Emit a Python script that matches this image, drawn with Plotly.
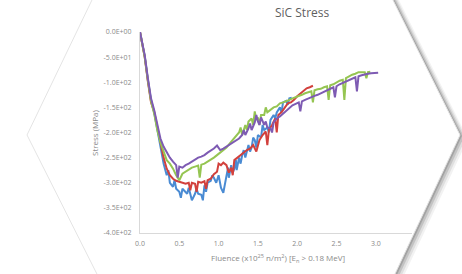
import plotly.graph_objects as go

# ---------------- data ----------------
blue_x = [0, 0.03, 0.06, 0.1, 0.14, 0.18, 0.22, 0.26, 0.28, 0.3, 0.34, 0.36, 0.38, 0.42, 0.44,
          0.46, 0.5, 0.52, 0.54, 0.56, 0.6, 0.62, 0.64, 0.66, 0.7, 0.72, 0.74, 0.78, 0.8, 0.82,
          0.84, 0.86, 0.9, 0.92, 0.94, 0.97, 1.0, 1.03, 1.06, 1.08, 1.1, 1.12, 1.13, 1.16, 1.18,
          1.2, 1.22, 1.23, 1.26, 1.28, 1.3, 1.32, 1.34, 1.38, 1.4, 1.42, 1.44, 1.46, 1.48, 1.5,
          1.54, 1.56, 1.58, 1.62, 1.64, 1.66, 1.7, 1.72, 1.74, 1.78, 1.8, 1.82, 1.86, 1.88, 1.9,
          1.93]
blue_y = [0, -25, -48, -95, -135, -160, -195, -232, -248, -262, -285, -275, -300, -308, -295,
          -312, -318, -330, -312, -315, -322, -310, -325, -335, -322, -312, -322, -324, -335, -305,
          -318, -300, -296, -285, -290, -300, -285, -310, -320, -305, -285, -270, -290, -265, -280,
          -272, -255, -275, -250, -262, -245, -235, -250, -225, -238, -230, -210, -215, -230, -205,
          -210, -185, -195, -190, -200, -175, -165, -172, -160, -150, -160, -140, -137, -145, -132,
          -131]

red_x = [0, 0.03, 0.06, 0.1, 0.14, 0.18, 0.22, 0.26, 0.3, 0.34, 0.38, 0.42, 0.46, 0.5, 0.54,
         0.58, 0.62, 0.64, 0.66, 0.7, 0.72, 0.74, 0.78, 0.82, 0.84, 0.86, 0.9, 0.94, 0.98, 1.0,
         1.03, 1.06, 1.1, 1.13, 1.16, 1.18, 1.2, 1.24, 1.28, 1.32, 1.36, 1.4, 1.44, 1.48, 1.52,
         1.56, 1.6, 1.62, 1.64, 1.68, 1.72, 1.74, 1.76, 1.8, 1.84, 1.88, 1.92, 1.96, 2.0, 2.04,
         2.08, 2.12, 2.16, 2.2]
red_y = [0, -27, -50, -98, -140, -158, -190, -225, -250, -272, -285, -292, -296, -298, -300,
         -302, -300, -315, -300, -302, -318, -298, -300, -297, -312, -295, -292, -283, -278, -262,
         -265, -260, -265, -280, -270, -285, -255, -250, -245, -240, -235, -232, -225, -238, -215,
         -205, -198, -225, -195, -185, -172, -200, -165, -160, -150, -142, -140, -135, -128, -122,
         -118, -112, -110, -107]

green_x = [0, 0.03, 0.06, 0.1, 0.14, 0.18, 0.22, 0.26, 0.3, 0.34, 0.38, 0.42, 0.46, 0.5, 0.54,
           0.58, 0.62, 0.66, 0.7, 0.74, 0.76, 0.78, 0.82, 0.86, 0.9, 0.94, 0.98, 1.02, 1.06, 1.1,
           1.14, 1.18, 1.22, 1.26, 1.28, 1.3, 1.34, 1.36, 1.38, 1.42, 1.44, 1.46, 1.48, 1.5, 1.52,
           1.54, 1.58, 1.6, 1.62, 1.66, 1.7, 1.74, 1.78, 1.82, 1.86, 1.9, 1.94, 1.98, 2.02, 2.06,
           2.1, 2.14, 2.18, 2.2, 2.22, 2.26, 2.3, 2.34, 2.38, 2.4, 2.42, 2.46, 2.5, 2.54, 2.58,
           2.6, 2.62, 2.66, 2.7, 2.74, 2.78, 2.82, 2.86, 2.88, 2.9, 2.93]
green_y = [0, -26, -50, -96, -138, -162, -195, -220, -238, -255, -262, -272, -285, -295, -282,
           -278, -274, -270, -268, -266, -290, -264, -262, -258, -255, -250, -245, -240, -236, -230,
           -222, -215, -208, -200, -190, -205, -185, -195, -178, -172, -185, -158, -175, -170, -185,
           -165, -165, -150, -160, -155, -150, -148, -142, -140, -138, -135, -132, -130, -127, -125,
           -122, -120, -118, -140, -116, -114, -113, -110, -108, -135, -106, -104, -100, -97, -95,
           -135, -92, -88, -85, -83, -80, -80, -80, -92, -80, -79]

purple_x = [0, 0.03, 0.06, 0.1, 0.14, 0.18, 0.22, 0.26, 0.3, 0.34, 0.38, 0.42, 0.46, 0.48, 0.5,
            0.54, 0.58, 0.62, 0.66, 0.7, 0.74, 0.78, 0.82, 0.86, 0.9, 0.94, 0.98, 1.02, 1.06, 1.1,
            1.14, 1.18, 1.22, 1.26, 1.3, 1.32, 1.34, 1.38, 1.4, 1.42, 1.46, 1.48, 1.5, 1.52, 1.54,
            1.58, 1.6, 1.62, 1.66, 1.68, 1.7, 1.74, 1.78, 1.82, 1.86, 1.9, 1.94, 1.98, 2.02, 2.04,
            2.06, 2.1, 2.14, 2.18, 2.22, 2.26, 2.3, 2.34, 2.38, 2.42, 2.46, 2.48, 2.5, 2.54, 2.58,
            2.62, 2.66, 2.7, 2.74, 2.76, 2.78, 2.82, 2.86, 2.9, 2.94, 2.98, 3.03]
purple_y = [0, -24, -46, -92, -132, -155, -185, -212, -228, -240, -250, -258, -265, -290, -268,
            -270, -265, -262, -258, -255, -250, -248, -245, -240, -236, -232, -226, -235, -232, -228,
            -224, -220, -215, -212, -205, -195, -205, -192, -182, -195, -180, -165, -178, -185, -170,
            -185, -178, -190, -192, -200, -180, -172, -168, -162, -156, -150, -146, -143, -140, -158,
            -138, -135, -132, -130, -127, -125, -122, -118, -115, -113, -110, -130, -108, -104, -101,
            -98, -95, -92, -90, -118, -88, -86, -84, -83, -82, -81, -81]

y_tick_vals = [0, -50, -100, -150, -200, -250, -300, -350, -400]
y_tick_text = ["0.0E+00", "-5.0E+01", "-1.0E+02", "-1.5E+02", "-2.0E+02",
               "-2.5E+02", "-3.0E+02", "-3.5E+02", "-4.0E+02"]
x_tick_vals = [0, 0.5, 1.0, 1.5, 2.0, 2.5, 3.0]

series = [
    ("blue", blue_x, blue_y, "#4a8bd3"),
    ("red", red_x, red_y, "#d2403c"),
    ("green", green_x, green_y, "#95c552"),
    ("purple", purple_x, purple_y, "#7e5bb3"),
]

# ---------------- layout geometry (pixels) ----------------
W, H = 462, 274
L, R, T, B = 140, 412, 32, 233


def px(x):
    return (x - L) / (R - L)


def py(y):
    return (B - y) / (B - T)


def hex_path(dx=0, dy=0):
    pts = [(101.6, -20), (383, -20), (460, 135), (385.6, 294), (107, 294), (27, 135)]
    return "M " + " L ".join(f"{px(a + dx):.4f},{py(b + dy):.4f}" for a, b in pts) + " Z"


fig = go.Figure()
for name, xs, ys, col in series:
    n = min(len(xs), len(ys))
    fig.add_trace(go.Scatter(x=xs[:n], y=ys[:n], mode="lines", name=name,
                             line=dict(color=col, width=2), showlegend=False,
                             hoverinfo="skip"))

shapes = []
for (dx, dy, a) in [(8, 4, 0.05), (6, 3, 0.08), (4, 2, 0.12), (2, 1, 0.16)]:
    shapes.append(dict(type="path", path=hex_path(dx, dy), xref="paper", yref="paper",
                       fillcolor=f"rgba(0,0,0,{a})", line=dict(width=0), layer="below"))
shapes.append(dict(type="path", path=hex_path(), xref="paper", yref="paper",
                   fillcolor="white", line=dict(color="#e4e4e4", width=1), layer="below"))

font = "Open Sans"
fig.update_layout(
    width=W, height=H,
    margin=dict(l=L, r=W - R, t=T, b=H - B, pad=0),
    paper_bgcolor="white", plot_bgcolor="rgba(0,0,0,0)",
    shapes=shapes,
    xaxis=dict(range=[0, (R - L) / 78.6], tickvals=x_tick_vals,
               tickformat=".1f", showgrid=False, zeroline=False,
               showline=True, linecolor="#d9d9d9", linewidth=1,
               ticks="outside", ticklen=4, tickcolor="rgba(0,0,0,0)",
               tickfont=dict(family=font, size=7, color="#8a8a8a")),
    yaxis=dict(range=[-400, 0], tickvals=y_tick_vals, ticktext=y_tick_text,
               showgrid=False, zeroline=False,
               showline=True, linecolor="#d9d9d9", linewidth=1,
               ticks="outside", ticklen=6, tickcolor="rgba(0,0,0,0)",
               tickfont=dict(family=font, size=7, color="#8a8a8a")),
    annotations=[
        dict(text="SiC Stress", xref="paper", yref="paper", x=px(302), y=py(12),
             xanchor="center", yanchor="middle", showarrow=False,
             font=dict(family=font, size=12, color="#5f5f5f")),
        dict(text="Stress (MPa)", xref="paper", yref="paper", x=px(94), y=py(133),
             xanchor="center", yanchor="middle", textangle=-90, showarrow=False,
             font=dict(family=font, size=8, color="#8a8a8a")),
        dict(text="Fluence (x10<sup>25</sup> n/m<sup>2</sup>) [E<sub>n</sub> > 0.18 MeV]",
             xref="paper", yref="paper", x=px(278), y=py(258),
             xanchor="center", yanchor="middle", showarrow=False,
             font=dict(family=font, size=8, color="#8a8a8a")),
    ],
)

fig.write_html("out.html", config={"displayModeBar": False, "staticPlot": True},
               post_script="document.body.style.margin='0';document.body.style.overflow='hidden';")
